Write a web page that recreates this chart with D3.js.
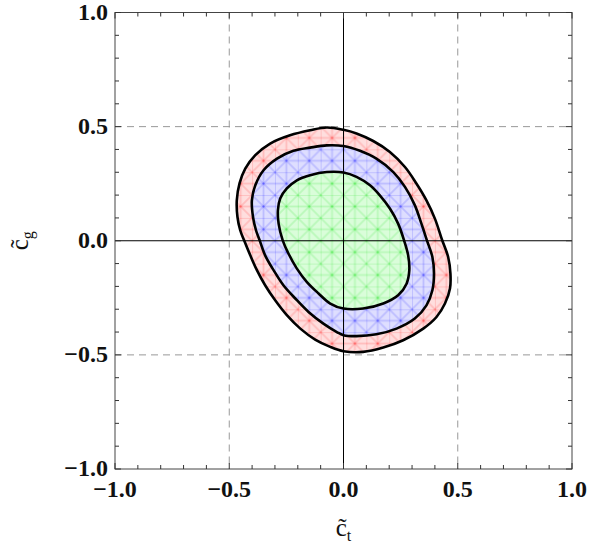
<!DOCTYPE html>
<html>
<head>
<meta charset="utf-8">
<script src="https://cdn.jsdelivr.net/npm/d3@7"></script>
<style>
  body { margin: 0; background: #fff; }
  svg { display: block; }
  .tick-label { font-family: "Liberation Serif", "DejaVu Serif", serif; font-size: 24px; font-weight: bold; fill: #111; }
  .axis-title { font-family: "Liberation Serif", "DejaVu Serif", serif; font-size: 25px; fill: #111; }
</style>
</head>
<body>
<svg id="chart" width="593" height="550"></svg>
<script>
// contour regions (ct, cg)
var outer = [
  [0.000, 0.486], [0.057, 0.470], [0.130, 0.437], [0.203, 0.389], [0.269, 0.323],
  [0.319, 0.251], [0.363, 0.177], [0.400, 0.097], [0.432, 0.002], [0.458, -0.071],
  [0.468, -0.144], [0.466, -0.209], [0.444, -0.275], [0.407, -0.334], [0.349, -0.385],
  [0.261, -0.436], [0.174, -0.468], [0.086, -0.487], [0.000, -0.484], [-0.058, -0.465],
  [-0.124, -0.433], [-0.189, -0.385], [-0.248, -0.326], [-0.299, -0.261], [-0.343, -0.195],
  [-0.379, -0.129], [-0.408, -0.064], [-0.435, 0.002], [-0.452, 0.046], [-0.464, 0.104],
  [-0.467, 0.177], [-0.455, 0.251], [-0.430, 0.316], [-0.386, 0.375], [-0.321, 0.426],
  [-0.234, 0.462], [-0.146, 0.484], [-0.073, 0.496]
];
var middle = [
  [0.000, 0.415], [0.072, 0.394], [0.144, 0.360], [0.218, 0.301], [0.269, 0.236],
  [0.312, 0.156], [0.341, 0.075], [0.365, 0.002], [0.389, -0.071], [0.396, -0.144],
  [0.389, -0.217], [0.363, -0.283], [0.312, -0.341], [0.232, -0.385], [0.144, -0.410],
  [0.057, -0.418], [0.000, -0.414], [-0.029, -0.400], [-0.088, -0.363], [-0.153, -0.312],
  [-0.211, -0.253], [-0.263, -0.195], [-0.306, -0.129], [-0.343, -0.064], [-0.367, 0.002],
  [-0.383, 0.046], [-0.396, 0.104], [-0.401, 0.177], [-0.386, 0.243], [-0.350, 0.309],
  [-0.291, 0.360], [-0.219, 0.394], [-0.146, 0.408], [-0.073, 0.418]
];
var inner = [
  [0.000, 0.299], [0.057, 0.280], [0.116, 0.243], [0.159, 0.199], [0.203, 0.141],
  [0.239, 0.075], [0.265, 0.002], [0.283, -0.064], [0.288, -0.129], [0.276, -0.188],
  [0.239, -0.239], [0.174, -0.275], [0.086, -0.297], [0.000, -0.297], [-0.058, -0.275],
  [-0.109, -0.231], [-0.160, -0.181], [-0.204, -0.122], [-0.241, -0.056], [-0.266, 0.002],
  [-0.284, 0.075], [-0.287, 0.134], [-0.277, 0.185], [-0.248, 0.229], [-0.204, 0.265],
  [-0.146, 0.287], [-0.073, 0.301]
];

var majorTicks = [-1.0, -0.5, 0.0, 0.5, 1.0];
var tickLabels = ["\u22121.0", "\u22120.5", "0.0", "0.5", "1.0"];
var minorTicks = d3.range(-10, 11).map(function (i) { return i / 10; });
var gridValues = [-0.5, 0.5];

var svg = d3.select("#chart");

var x = d3.scaleLinear().domain([-1, 1]).range([115, 572]);
var y = d3.scaleLinear().domain([-1, 1]).range([469, 12.5]);

// mesh patterns
var step = x(0.05) - x(0);
var defs = svg.append("defs");
function addMesh(id, col) {
    var p = defs.append("pattern")
        .attr("id", id)
        .attr("patternUnits", "userSpaceOnUse")
        .attr("x", x(0)).attr("y", y(0))
        .attr("width", 2 * step).attr("height", 2 * step);
    var segs = [
        [0, 0, 2 * step, 0], [0, step, 2 * step, step],
        [0, 0, 0, 2 * step], [step, 0, step, 2 * step],
        [0, 0, 2 * step, 2 * step], [2 * step, 0, 0, 2 * step]
    ];
    segs.forEach(function (s) {
        p.append("line")
            .attr("x1", s[0]).attr("y1", s[1]).attr("x2", s[2]).attr("y2", s[3])
            .attr("stroke", col).attr("stroke-opacity", 0.15).attr("stroke-width", 1.8);
    });
    [[0, 0], [step, step], [2 * step, 0], [0, 2 * step], [2 * step, 2 * step]].forEach(function (c) {
        p.append("circle").attr("cx", c[0]).attr("cy", c[1]).attr("r", 1)
            .attr("fill", col).attr("fill-opacity", 0.2);
    });
}
addMesh("mesh-red", "rgb(255,0,0)");
addMesh("mesh-blue", "rgb(0,0,255)");
addMesh("mesh-green", "rgb(0,220,0)");

// dashed grid
gridValues.forEach(function (v) {
    svg.append("line")
        .attr("x1", x(v)).attr("x2", x(v)).attr("y1", y(1)).attr("y2", y(-1))
        .attr("stroke", "#999").attr("stroke-dasharray", "7,5");
    svg.append("line")
        .attr("x1", x(-1)).attr("x2", x(1)).attr("y1", y(v)).attr("y2", y(v))
        .attr("stroke", "#999").attr("stroke-dasharray", "7,5");
});

// regions
var line = d3.line()
    .x(function (d) { return x(d[0]); })
    .y(function (d) { return y(d[1]); })
    .curve(d3.curveCatmullRomClosed);

var regions = [
    { pts: outer, fill: "#ffdede", mesh: "mesh-red" },
    { pts: middle, fill: "#dedeff", mesh: "mesh-blue" },
    { pts: inner, fill: "#dafdda", mesh: "mesh-green" }
];
regions.forEach(function (r) {
    svg.append("path").datum(r.pts).attr("d", line).attr("fill", r.fill);
    svg.append("path").datum(r.pts).attr("d", line).attr("fill", "url(#" + r.mesh + ")");
});

// zero axes
svg.append("line").attr("x1", x(0)).attr("x2", x(0)).attr("y1", y(1)).attr("y2", y(-1))
    .attr("stroke", "#000").attr("stroke-width", 1);
svg.append("line").attr("x1", x(-1)).attr("x2", x(1)).attr("y1", y(0)).attr("y2", y(0))
    .attr("stroke", "#000").attr("stroke-width", 1);

regions.forEach(function (r) {
    svg.append("path").datum(r.pts).attr("d", line)
        .attr("fill", "none").attr("stroke", "#000").attr("stroke-width", 2.6)
        .attr("stroke-linejoin", "round");
});

// frame
svg.append("rect")
    .attr("x", x(-1)).attr("y", y(1))
    .attr("width", x(1) - x(-1)).attr("height", y(-1) - y(1))
    .attr("fill", "none").attr("stroke", "#444").attr("stroke-width", 1);

// ticks on all four sides, pointing inward
var frameTicks = svg.append("g").attr("stroke", "#333").attr("stroke-width", 1);
minorTicks.forEach(function (v) {
    var isMajor = Math.abs(v * 2 - Math.round(v * 2)) < 1e-9;
    var len = isMajor ? 6 : 4;
    frameTicks.append("line").attr("x1", x(v)).attr("x2", x(v)).attr("y1", y(-1)).attr("y2", y(-1) - len);
    frameTicks.append("line").attr("x1", x(v)).attr("x2", x(v)).attr("y1", y(1)).attr("y2", y(1) + len);
    frameTicks.append("line").attr("y1", y(v)).attr("y2", y(v)).attr("x1", x(-1)).attr("x2", x(-1) + len);
    frameTicks.append("line").attr("y1", y(v)).attr("y2", y(v)).attr("x1", x(1)).attr("x2", x(1) - len);
});

// tick labels
majorTicks.forEach(function (v, i) {
    svg.append("text").attr("class", "tick-label")
        .attr("x", x(v)).attr("y", 497)
        .attr("text-anchor", "middle")
        .text(tickLabels[i]);
    svg.append("text").attr("class", "tick-label")
        .attr("x", 108).attr("y", y(v) + 7)
        .attr("text-anchor", "end")
        .text(tickLabels[i]);
});

// axis titles
var xt = svg.append("text").attr("class", "axis-title")
    .attr("x", x(0)).attr("y", 536).attr("text-anchor", "middle");
xt.append("tspan").text("c\u0303");
xt.append("tspan").attr("font-size", "16px").attr("dy", 5).text("t");

var yt = svg.append("text").attr("class", "axis-title")
    .attr("transform", "translate(28," + y(0) + ") rotate(-90)")
    .attr("text-anchor", "middle");
yt.append("tspan").text("c\u0303");
yt.append("tspan").attr("font-size", "16px").attr("dy", 5).text("g");
</script>
</body>
</html>
